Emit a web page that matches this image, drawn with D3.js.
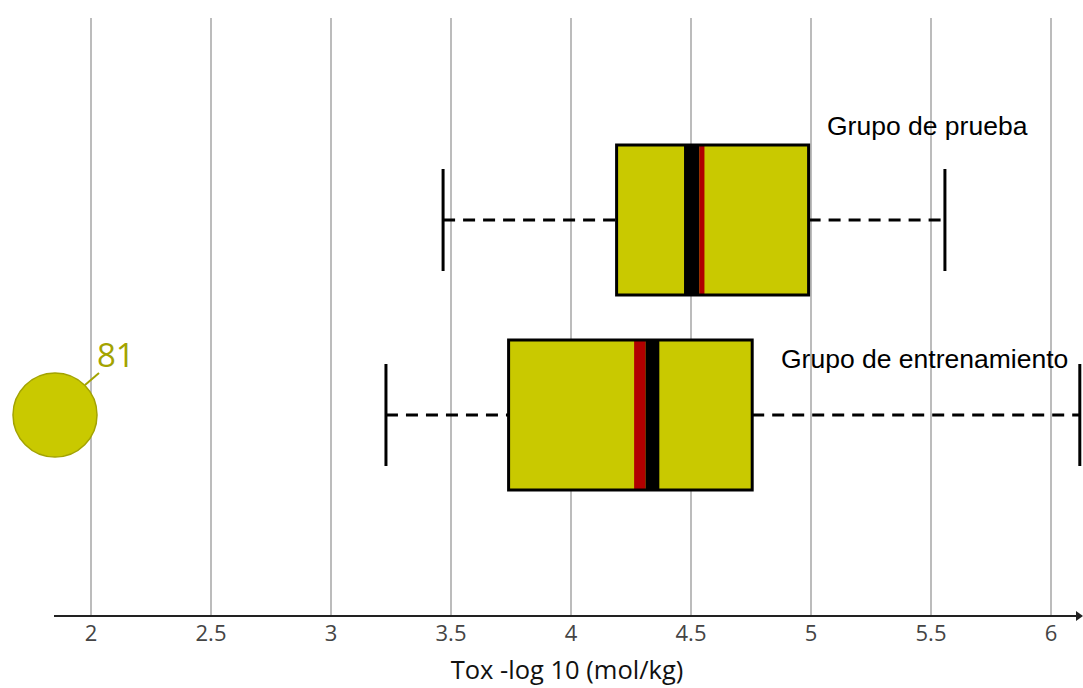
<!DOCTYPE html>
<html>
<head>
<meta charset="utf-8">
<script src="https://cdn.jsdelivr.net/npm/d3@7"></script>
<style>
  body { margin: 0; background: #fff; }
  svg { display: block; }
</style>
</head>
<body>
<div id="chart"></div>
<script>
    // Data
    var groups = ['Grupo de prueba', 'Grupo de entrenamiento']
    var whiskerLow = [3.467, 3.229]
    var q1 = [4.19, 3.74]
    var q3 = [4.99, 4.755]
    var whiskerHigh = [5.558, 6.12]
    var medianBand = [[4.471, 4.535], [4.31, 4.368]]   // black band
    var meanBand = [[4.535, 4.556], [4.263, 4.31]]     // red band
    var outliers = [{ group: 1, value: 1.85, label: '81' }]
    var ticks = [2, 2.5, 3, 3.5, 4, 4.5, 5, 5.5, 6]

    var W = 1083, H = 688

    var x = d3.scaleLinear() // 240 px per unit
        .domain([2, 6])
        .range([91, 1051])

    var y = d3.scaleBand()
        .domain(groups)
        .range([145, 490])
        .paddingInner(0.2308)
        .paddingOuter(0)

    var svg = d3.select('#chart').append('svg')
        .attr('width', W)
        .attr('height', H)

    // gridlines
    svg.append('g').selectAll('line')
        .data(ticks)
        .enter().append('line')
        .attr('x1', d => x(d)).attr('x2', d => x(d))
        .attr('y1', 18).attr('y2', 616)
        .style('stroke', '#bcbcbc')
        .style('stroke-width', 2)

    // x axis
    var axisG = svg.append('g').attr('transform', 'translate(0,616)')
    axisG.append('line')
        .attr('x1', 54).attr('x2', 1076)
        .style('stroke', '#222').style('stroke-width', 2)
    axisG.append('path')
        .attr('d', 'M1076,-5 L1083,0 L1076,5 Z')
        .style('fill', '#222')
    axisG.selectAll('text')
        .data(ticks)
        .enter().append('text')
        .attr('x', d => x(d))
        .attr('y', 25)
        .attr('text-anchor', 'middle')
        .style('font-family', '"Open Sans", sans-serif')
        .style('font-size', '22px')
        .style('fill', '#444')
        .text(d => d)

    svg.append('text')
        .attr('x', 567).attr('y', 679)
        .attr('text-anchor', 'middle')
        .style('font-family', '"Open Sans", sans-serif')
        .style('font-size', '25.5px')
        .style('fill', '#111')
        .text('Tox -log 10 (mol/kg)')

    // boxes
    var bh = y.bandwidth()
    var boxes = svg.selectAll('g.box')
        .data(groups)
        .enter().append('g')
        .attr('class', 'box')

    boxes.each(function(d, i) {
        var g = d3.select(this)
        var top = y(d), mid = top + bh / 2
        var wh = bh * 0.68

        // dashed whisker lines
        g.append('line')
            .attr('x1', x(whiskerLow[i])).attr('x2', x(q1[i]))
            .attr('y1', mid).attr('y2', mid)
            .style('stroke', '#000').style('stroke-width', 3)
            .style('stroke-dasharray', '12,8')
        g.append('line')
            .attr('x1', x(q3[i])).attr('x2', x(whiskerHigh[i]))
            .attr('y1', mid).attr('y2', mid)
            .style('stroke', '#000').style('stroke-width', 3)
            .style('stroke-dasharray', '12,8')

        // whisker caps
        ;[whiskerLow[i], whiskerHigh[i]].forEach(function(v) {
            g.append('line')
                .attr('x1', x(v)).attr('x2', x(v))
                .attr('y1', mid - wh / 2).attr('y2', mid + wh / 2)
                .style('stroke', '#000').style('stroke-width', 3)
        })

        g.append('rect')
            .attr('x', x(q1[i])).attr('y', top)
            .attr('width', x(q3[i]) - x(q1[i]))
            .attr('height', bh)
            .style('fill', '#c9c900')

        g.append('rect')
            .attr('x', x(medianBand[i][0])).attr('y', top)
            .attr('width', x(medianBand[i][1]) - x(medianBand[i][0]))
            .attr('height', bh)
            .style('fill', '#000')
        g.append('rect')
            .attr('x', x(meanBand[i][0])).attr('y', top)
            .attr('width', x(meanBand[i][1]) - x(meanBand[i][0]))
            .attr('height', bh)
            .style('fill', '#b00000')

        // box outline on top
        g.append('rect')
            .attr('x', x(q1[i])).attr('y', top)
            .attr('width', x(q3[i]) - x(q1[i]))
            .attr('height', bh)
            .style('fill', 'none')
            .style('stroke', '#000').style('stroke-width', 3)
    })

    // group labels
    svg.append('text')
        .attr('x', 827).attr('y', 135)
        .style('font-family', '"Liberation Sans", Arial, sans-serif')
        .style('font-size', '26.5px')
        .style('fill', '#000')
        .text(groups[0])
    svg.append('text')
        .attr('x', 781).attr('y', 368)
        .style('font-family', '"Liberation Sans", Arial, sans-serif')
        .style('font-size', '26.5px')
        .style('fill', '#000')
        .text(groups[1])

    // outliers
    var og = svg.selectAll('g.outlier')
        .data(outliers)
        .enter().append('g')
        .attr('class', 'outlier')
    og.append('line')
        .attr('x1', d => x(d.value) + 30).attr('y1', d => y(groups[d.group]) + bh / 2 - 30)
        .attr('x2', d => x(d.value) + 44).attr('y2', d => y(groups[d.group]) + bh / 2 - 42)
        .style('stroke', '#a3a300').style('stroke-width', 2)
    og.append('circle')
        .attr('cx', d => x(d.value))
        .attr('cy', d => y(groups[d.group]) + bh / 2)
        .attr('r', 42)
        .style('fill', '#c9c900')
        .style('stroke', '#a3a300')
        .style('stroke-width', 1.5)
    og.append('text')
        .attr('x', d => x(d.value) + 42)
        .attr('y', d => y(groups[d.group]) + bh / 2 - 48)
        .style('font-family', '"Open Sans", sans-serif')
        .style('font-size', '33px')
        .style('fill', '#a3a300')
        .text(d => d.label)
</script>
</body>
</html>
